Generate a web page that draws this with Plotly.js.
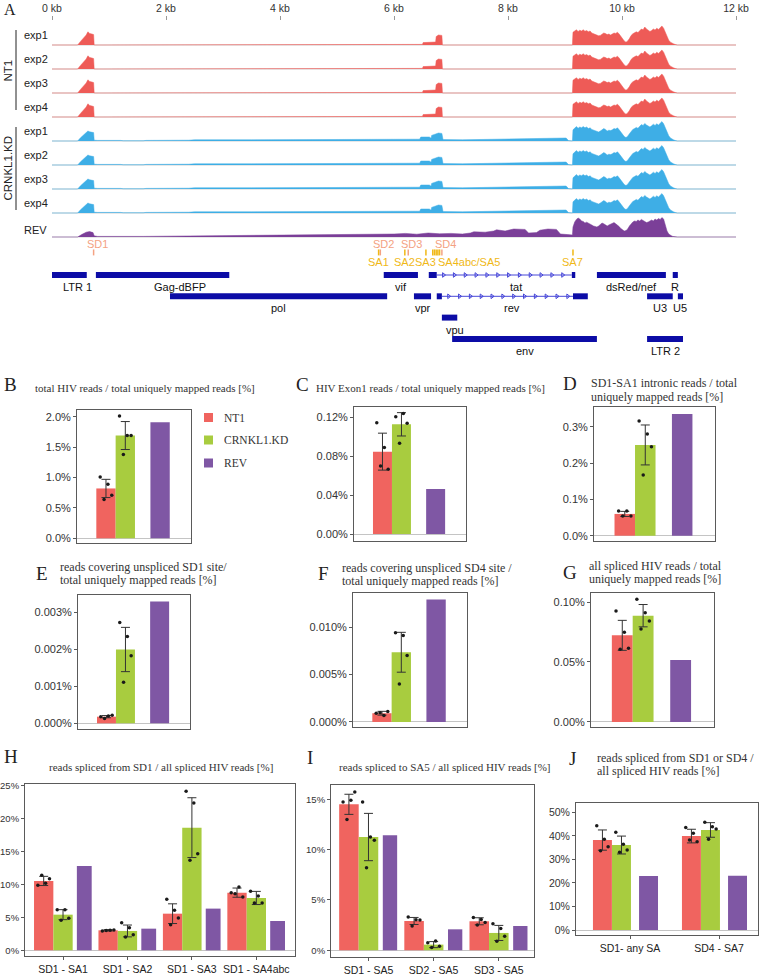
<!DOCTYPE html>
<html>
<head>
<meta charset="utf-8">
<script src="https://cdn.plot.ly/plotly-3.0.1.min.js"></script>
<style>
  html, body { margin: 0; padding: 0; background: #fff; }
  #fig { width: 760px; height: 975px; }
</style>
</head>
<body>
<div id="fig"></div>
<script>
/* HIV coverage tracks (A) + spliced read ratios (B–J) */

// ---------- A: coverage profiles (kb, relative depth) ----------
const trackLabel = ['exp1', 'exp2', 'exp3', 'exp4', 'exp1', 'exp2', 'exp3', 'exp4', 'REV'];
const trackCond  = ['NT1', 'NT1', 'NT1', 'NT1', 'KD', 'KD', 'KD', 'KD', 'REV'];

const headKb_NT1  = [0, 0.45, 0.5, 0.55, 0.6, 0.63, 0.66, 0.7, 0.73, 0.74, 5.7, 5.71, 5.78, 5.79, 6.04, 6.05, 6.5, 6.51, 6.6, 6.7, 6.73, 6.74, 6.78, 6.84, 6.85, 9.12];
const headVal_NT1 = [0, 0, 0.18, 0.34, 0.5, 0.66, 0.58, 0.55, 0.52, 0, 0, 0.03, 0.03, 0, 0, 0.03, 0.03, 0.12, 0.13, 0.14, 0.15, 0.42, 0.5, 0.48, 0, 0];

const headKb_KD  = [0, 0.45, 0.5, 0.55, 0.6, 0.63, 0.66, 0.7, 0.73, 0.74,
  0.8, 1.2, 1.25, 1.6, 1.65, 2.4, 2.5, 3.5, 4.0, 4.6,
  5.0, 5.5, 6.0, 6.45, 6.47, 6.55, 6.62, 6.65, 6.66, 6.72,
  6.78, 6.84, 6.86, 7.2, 7.6, 8.0, 8.4, 8.7, 8.9, 9.02, 9.06, 9.12];
const headVal_KD = [0, 0, 0.16, 0.3, 0.4, 0.5, 0.46, 0.44, 0.42, 0.04,
  0.03, 0.03, 0.01, 0.01, 0.03, 0.04, 0.06, 0.06, 0.07, 0.06,
  0.08, 0.08, 0.08, 0.09, 0.2, 0.22, 0.2, 0.14, 0.28, 0.34,
  0.4, 0.38, 0.07, 0.06, 0.08, 0.07, 0.09, 0.1, 0.13, 0.15, 0.02, 0];

const headKb_REV  = [0, 0.45, 0.52, 0.6, 0.66, 0.72, 0.74, 0.8, 1.6, 2.0,
  2.4, 2.8, 3.2, 3.6, 4.0, 4.3, 4.6, 5.0, 5.3, 5.6,
  6.0, 6.2, 6.4, 6.6, 6.8, 7.0, 7.2, 7.34, 7.4, 7.6,
  7.75, 7.8, 7.95, 8.1, 8.3, 8.36, 8.5, 8.56, 8.7, 8.85,
  8.92, 9.05, 9.12];
const headVal_REV = [0, 0, 0.12, 0.24, 0.27, 0.22, 0.06, 0.03, 0.03, 0.04,
  0.05, 0.06, 0.05, 0.07, 0.08, 0.1, 0.09, 0.12, 0.14, 0.12,
  0.15, 0.18, 0.14, 0.2, 0.16, 0.18, 0.15, 0.2, 0.26, 0.24,
  0.3, 0.36, 0.3, 0.4, 0.38, 0.2, 0.22, 0.34, 0.4, 0.38,
  0.15, 0.12, 0.08];

const tailKb = [9.13, 9.14, 9.17, 9.2, 9.23, 9.26, 9.29, 9.32, 9.35, 9.38,
  9.41, 9.44, 9.47, 9.5, 9.53, 9.56, 9.59, 9.62, 9.65, 9.68,
  9.71, 9.74, 9.77, 9.8, 9.83, 9.86, 9.89, 9.92, 9.95, 9.98,
  10.01, 10.04, 10.07, 10.1, 10.13, 10.16, 10.19, 10.22, 10.25, 10.28,
  10.31, 10.34, 10.37, 10.4, 10.43, 10.46, 10.49, 10.52, 10.55, 10.58,
  10.61, 10.64, 10.67, 10.7, 10.73, 10.76, 10.79, 10.82, 10.85, 10.88,
  10.91, 10.94, 10.97, 12];
const tailVal_NT1 = [0, 0.64, 0.7, 0.76, 0.68, 0.74, 0.7, 0.76, 0.69, 0.72,
  0.66, 0.7, 0.6, 0.56, 0.52, 0.5, 0.46, 0.48, 0.54, 0.6,
  0.57, 0.52, 0.55, 0.5, 0.55, 0.6, 0.58, 0.64, 0.55, 0.42,
  0.3, 0.2, 0.14, 0.2, 0.32, 0.48, 0.56, 0.6, 0.66, 0.62,
  0.7, 0.8, 0.76, 0.9, 0.8, 0.72, 0.68, 0.72, 0.8, 0.75,
  0.84, 0.78, 0.86, 0.95, 0.84, 0.62, 0.4, 0.24, 0.14, 0.08,
  0.05, 0.02, 0, 0];
const tailVal_KD = [0, 0.56, 0.66, 0.72, 0.64, 0.7, 0.66, 0.72, 0.66, 0.7,
  0.62, 0.66, 0.58, 0.54, 0.5, 0.48, 0.45, 0.5, 0.56, 0.62,
  0.58, 0.5, 0.54, 0.52, 0.56, 0.62, 0.6, 0.66, 0.56, 0.44,
  0.32, 0.22, 0.17, 0.24, 0.36, 0.5, 0.58, 0.62, 0.68, 0.64,
  0.72, 0.82, 0.78, 0.88, 0.8, 0.74, 0.7, 0.76, 0.84, 0.78,
  0.86, 0.8, 0.88, 0.97, 0.86, 0.64, 0.42, 0.26, 0.15, 0.09,
  0.05, 0.02, 0, 0];
const tailVal_REV = [0.1, 0.5, 0.75, 0.88, 0.95, 0.9, 0.8, 0.78, 0.7, 0.74,
  0.68, 0.62, 0.6, 0.55, 0.52, 0.5, 0.55, 0.62, 0.7, 0.66,
  0.58, 0.55, 0.6, 0.65, 0.7, 0.72, 0.66, 0.6, 0.52, 0.42,
  0.35, 0.3, 0.32, 0.4, 0.55, 0.68, 0.75, 0.8, 0.78, 0.85,
  0.8, 0.88, 0.82, 0.78, 0.72, 0.75, 0.82, 0.85, 0.8, 0.9,
  0.85, 0.92, 0.88, 0.97, 0.9, 0.6, 0.3, 0.15, 0.08, 0.04,
  0.02, 0.01, 0, 0];

// splice sites (kb)
const sdName = ['SD1', 'SD2', 'SD3', 'SD4'];
const sdKb   = [0.73, 5.76, 6.25, 6.84];
const saName = ['SA1', 'SA2', 'SA3', 'SA4abc/SA5', 'SA7'];
const saKb   = [5.73, 6.19, 6.56, 6.68, 9.14];
const saClusterKb = [6.71, 6.74, 6.77, 6.8];

// genome features (kb)
const geneName  = ['LTR 1', 'Gag-dBFP', 'vif', 'tat', 'dsRed/nef', 'R', 'pol', 'vpr', 'rev', 'U3', 'U5', 'vpu', 'env', 'LTR 2'];
const geneRow   = [1, 1, 1, 1, 1, 1, 2, 2, 2, 2, 2, 3, 4, 4];
const geneExons = [[[0, 0.61]], [[0.77, 3.11]], [[5.82, 6.42]], [[6.61, 6.75], [9.12, 9.18]], [[9.56, 10.77]], [[10.89, 10.98]],
  [[2.07, 5.88]], [[6.35, 6.65]], [[6.75, 6.84], [9.14, 9.4]], [[10.44, 10.89]], [[10.98, 11.07]],
  [[6.84, 7.11]], [[7.02, 9.56]], [[10.44, 11.07]]];

// ---------- B–J: bar data (% values) ----------
const cond = ['NT1', 'CRNKL1.KD', 'REV'];
const single = [''];

const B_NT1 = [0.82], B_KD = [1.69], B_REV = [1.91];
const B_sdNT1 = [0.15], B_sdKD = [0.23];
const B_ptsNT1 = [[1.01, 0.89, 0.71, 0.64]], B_ptsKD = [[2.01, 1.69, 1.69, 1.38]];

const C_NT1 = [0.0847], C_KD = [0.1128], C_REV = [0.0463];
const C_sdNT1 = [0.019], C_sdKD = [0.012];
const C_ptsNT1 = [[0.1145, 0.089, 0.0665, 0.070]], C_ptsKD = [[0.1207, 0.124, 0.1139, 0.0933]];

const D_NT1 = [0.06], D_KD = [0.25], D_REV = [0.335];
const D_sdNT1 = [0.007], D_sdKD = [0.055];
const D_ptsNT1 = [[0.068, 0.068, 0.054, 0.054]], D_ptsKD = [[0.316, 0.28, 0.245, 0.167]];

const E_NT1 = [0.00018], E_KD = [0.002], E_REV = [0.0033];
const E_sdNT1 = [0.00003], E_sdKD = [0.0006];
const E_ptsNT1 = [[0.00018, 0.0002, 0.00022, 0.00013]], E_ptsKD = [[0.00273, 0.00235, 0.00183, 0.00111]];

const F_NT1 = [0.00092], F_KD = [0.00734], F_REV = [0.0129];
const F_sdNT1 = [0.0002], F_sdKD = [0.0021];
const F_ptsNT1 = [[0.00092, 0.00067, 0.00109, 0.00098]], F_ptsKD = [[0.0094, 0.0091, 0.007, 0.004]];

const G_NT1 = [0.0722], G_KD = [0.0886], G_REV = [0.0517];
const G_sdNT1 = [0.0125], G_sdKD = [0.0093];
const G_ptsNT1 = [[0.0925, 0.0748, 0.0614, 0.0606]], G_ptsKD = [[0.1023, 0.0911, 0.0842, 0.0775]];

const H_cats = ['SD1 - SA1', 'SD1 - SA2', 'SD1 - SA3', 'SD1 - SA4abc'];
const H_NT1 = [10.55, 3.04, 5.57, 8.77], H_KD = [5.42, 2.94, 18.66, 7.96], H_REV = [12.83, 3.29, 6.34, 4.46];
const H_sdNT1 = [0.7, 0.1, 1.5, 0.7], H_sdKD = [0.76, 0.9, 4.55, 1.0];
const H_ptsNT1 = [[9.9, 10.2, 10.9, 11.4], [2.95, 3.05, 3.1, 3.0], [7.76, 6.09, 4.92, 3.9], [8.77, 9.63, 8.1, 8.6]];
const H_ptsKD  = [[6.18, 6.18, 4.87, 4.56], [4.2, 3.44, 2.37, 2.02], [24.2, 22.4, 14.7, 13.7], [8.98, 8.26, 7.2, 7.2]];

const I_cats = ['SD1 - SA5', 'SD2 - SA5', 'SD3 - SA5'];
const I_NT1 = [14.5, 2.91, 2.88], I_KD = [11.25, 0.56, 1.72], I_REV = [11.42, 2.08, 2.41];
const I_sdNT1 = [1.0, 0.35, 0.35], I_sdKD = [2.35, 0.3, 0.75];
const I_ptsNT1 = [[14.73, 14.9, 15.72, 13.0], [3.3, 3.04, 3.0, 2.41], [3.25, 3.05, 2.75, 2.5]];
const I_ptsKD  = [[14.73, 11.25, 10.92, 8.2], [0.75, 0.92, 0.4, 0.27], [2.64, 2.15, 1.39, 0.89]];

const J_cats = ['SD1- any SA', 'SD4 - SA7'];
const J_NT1 = [38.2, 39.9], J_KD = [36.1, 42.5], J_REV = [22.9, 23.1];
const J_sdNT1 = [4.3, 2.9], J_sdKD = [3.8, 3.1];
const J_ptsNT1 = [[44.3, 38.5, 35.4, 33.7], [43.5, 41.1, 37.5, 38.2]];
const J_ptsKD  = [[41.5, 36.4, 34.0, 33.0], [45.8, 43.9, 42.9, 38.5]];

// ---------- helpers / style ----------
const W = 760, H = 975;
const px = x => x / W, py = y => 1 - y / H;
const hdom = (a, b) => [a / W, b / W];
const vdom = (top, bot) => [1 - bot / H, 1 - top / H];
const SERIF = 'Liberation Serif, Times New Roman, serif';
const SANS = 'Liberation Sans, Arial, sans-serif';
const covColor = { NT1: '#ee5b57', KD: '#3eaee6', REV: '#7b3f98' };
const barColor = ['#f0645f', '#a8cc3f', '#7f57a4'];
const SD_COL = '#f4a283', SA_COL = '#f0b816', GENE_COL = '#0c0ca6';
const JIT = [-0.3, 0.1, 0.3, -0.1];

const yRef = n => n === 1 ? 'y' : 'y' + n;
const yKey = n => n === 1 ? 'yaxis' : 'yaxis' + n;

const traces = [], shapes = [], annotations = [];
const layout = {
  width: W, height: H, margin: { l: 0, r: 0, t: 0, b: 0 },
  showlegend: false, barmode: 'overlay',
  paper_bgcolor: '#fff', plot_bgcolor: 'rgba(0,0,0,0)',
  font: { family: SANS, color: '#333' },
  xaxis: {
    domain: hdom(52, 736), range: [0, 12], anchor: 'free', position: py(20), side: 'top',
    showgrid: false, zeroline: false, showline: false,
    ticks: 'outside', ticklen: 4, tickcolor: '#999',
    tickvals: [0, 2, 4, 6, 8, 10, 12], ticktext: ['0 kb', '2 kb', '4 kb', '6 kb', '8 kb', '10 kb', '12 kb'],
    tickfont: { family: SANS, size: 10.5, color: '#333' }, fixedrange: true
  }
};

function text(t, x, y, opt) {
  annotations.push(Object.assign({ text: t, x: x, y: y, xref: 'paper', yref: 'paper', showarrow: false,
    xanchor: 'left', yanchor: 'middle' }, opt));
}

// ---------- A: tracks ----------
const profiles = {
  NT1: { kb: headKb_NT1.concat(tailKb), v: headVal_NT1.concat(tailVal_NT1) },
  KD:  { kb: headKb_KD.concat(tailKb),  v: headVal_KD.concat(tailVal_KD) },
  REV: { kb: headKb_REV.concat(tailKb), v: headVal_REV.concat(tailVal_REV) }
};
const trackBase = [45, 69, 93, 117, 141, 165, 189, 213, 237];

trackCond.forEach((c, i) => {
  const n = i + 1, base = trackBase[i];
  layout[yKey(n)] = { domain: vdom(base - 21, base + 1), range: [-0.05, 1.05], visible: false, anchor: 'x', fixedrange: true };
  traces.push({ type: 'scatter', mode: 'lines', x: profiles[c].kb, y: profiles[c].v, xaxis: 'x', yaxis: yRef(n),
    fill: 'tozeroy', fillcolor: covColor[c], line: { color: covColor[c], width: 0.5 }, hoverinfo: 'skip' });
  shapes.push({ type: 'line', xref: 'x', yref: yRef(n), x0: 0, x1: 12, y0: 0, y1: 0, layer: 'below',
    line: { color: '#cfcfcf', width: 1 } });
  text(trackLabel[i], px(22), py(base - (i === 8 ? 7 : 10)), { font: { family: SANS, size: 11, color: '#222' } });
});

shapes.push({ type: 'line', xref: 'paper', yref: 'paper', x0: px(16), x1: px(16), y0: py(30), y1: py(110), line: { color: '#222', width: 1 } });
shapes.push({ type: 'line', xref: 'paper', yref: 'paper', x0: px(16), x1: px(16), y0: py(127), y1: py(210), line: { color: '#222', width: 1 } });
text('NT1', px(7.5), py(71), { xanchor: 'center', textangle: -90, font: { family: SANS, size: 11.5, color: '#222' } });
text('CRNKL1.KD', px(7.5), py(168), { xanchor: 'center', textangle: -90, font: { family: SANS, size: 11.5, color: '#222' } });
text('A', px(2), py(10), { font: { family: SERIF, size: 16, color: '#222' } });

// ---------- A: splice sites + genes ----------
const GY = 10;   // gene axis, row units
layout[yKey(GY)] = { domain: vdom(238, 352), range: [4.615, -0.737], visible: false, anchor: 'x', fixedrange: true };
const gy = yRef(GY);
const TICK_Y = [-0.2, 0.08];

sdKb.forEach((k, i) => {
  shapes.push({ type: 'line', xref: 'x', yref: gy, x0: k, x1: k, y0: TICK_Y[0], y1: TICK_Y[1], line: { color: SD_COL, width: 1.5 } });
  annotations.push({ text: sdName[i], x: k + 0.06, y: -0.45, xref: 'x', yref: gy, showarrow: false,
    font: { family: SANS, size: 11, color: SD_COL } });
});
saKb.concat(saClusterKb).forEach(k => {
  shapes.push({ type: 'line', xref: 'x', yref: gy, x0: k, x1: k, y0: TICK_Y[0], y1: TICK_Y[1], line: { color: SA_COL, width: 1.5 } });
});
saKb.forEach((k, i) => {
  const cluster = saName[i].indexOf('/') > 0;
  annotations.push({ text: saName[i], x: cluster ? k + 0.06 : k, y: 0.4, xref: 'x', yref: gy, showarrow: false,
    xanchor: cluster ? 'left' : 'center', font: { family: SANS, size: 11, color: SA_COL } });
});

const LABEL_NUDGE = { 'LTR 1': 0.14, 'Gag-dBFP': 0.3, 'tat': 0.24, 'vpu': 0.1 };
const chevX = [], chevY = [], arrX = [], arrY = [];
geneName.forEach((g, i) => {
  const r = geneRow[i], ex = geneExons[i];
  ex.forEach(e => {
    shapes.push({ type: 'rect', xref: 'x', yref: gy, x0: e[0], x1: e[1], y0: r - 0.14, y1: r + 0.14,
      fillcolor: GENE_COL, line: { width: 0 } });
    for (let k = e[0] + 0.09; k < e[1] - 0.04; k += 0.18) { chevX.push(k); chevY.push(r); }
  });
  if (ex.length > 1) {
    const a = ex[0][1], b = ex[1][0];
    shapes.push({ type: 'line', xref: 'x', yref: gy, x0: a, x1: b, y0: r, y1: r, line: { color: '#4646d8', width: 1 } });
    for (let k = a + 0.12; k < b - 0.05; k += 0.19) { arrX.push(k); arrY.push(r); }
  }
  const s = ex[0][0], e = ex[ex.length - 1][1];
  annotations.push({ text: g, x: (s + e) / 2 + (LABEL_NUDGE[g] || 0), y: r + 0.57, xref: 'x', yref: gy,
    showarrow: false, font: { family: SANS, size: 11, color: '#111' } });
});
// strand chevrons as small open markers
traces.push({ type: 'scatter', mode: 'markers', x: chevX, y: chevY, xaxis: 'x', yaxis: gy,
  marker: { symbol: 'triangle-right-open', size: 4, color: '#fff', line: { color: '#fff', width: 1 } },
  hoverinfo: 'skip', cliponaxis: false });
traces.push({ type: 'scatter', mode: 'markers', x: arrX, y: arrY, xaxis: 'x', yaxis: gy,
  marker: { symbol: 'triangle-right-open', size: 4, color: '#4646d8', line: { color: '#4646d8', width: 1 } },
  hoverinfo: 'skip', cliponaxis: false });

// ---------- B–J: bar panels ----------
const singleGeom = { xr: [-1.5, 4.4], off: [0, 1, 2.8], w: [1, 1, 1], tf: 11 };
const geoms = [
  Object.assign({ x0: 77, x1: 191, y0: 410, y1: 543, yr: [-0.077, 2.11], dtick: 0.5, fmt: '.1f' }, singleGeom),
  Object.assign({ x0: 354, x1: 466, y0: 407, y1: 541, yr: [-0.0072, 0.1306], dtick: 0.04, fmt: '.2f' }, singleGeom),
  Object.assign({ x0: 594, x1: 715, y0: 407, y1: 541, yr: [-0.0146, 0.3545], dtick: 0.1, fmt: '.1f' }, singleGeom),
  Object.assign({ x0: 78, x1: 190, y0: 595, y1: 729, yr: [-0.000154, 0.003477], dtick: 0.001, fmt: '.3f' }, singleGeom),
  Object.assign({ x0: 353, x1: 467, y0: 593, y1: 727, yr: [-0.00053, 0.01358], dtick: 0.005, fmt: '.3f' }, singleGeom),
  Object.assign({ x0: 591, x1: 714, y0: 593, y1: 727, yr: [-0.0042, 0.1075], dtick: 0.05, fmt: '.2f' }, singleGeom),
  { x0: 25, x1: 295, y0: 784, y1: 956, yr: [-0.87, 25.3], dtick: 5, fmt: '.0f', xr: [-0.59, 3.6], off: [-0.3, 0, 0.33], w: [0.3, 0.3, 0.23], tf: 9.5 },
  { x0: 331, x1: 534, y0: 785, y1: 957, yr: [-0.67, 16.42], dtick: 5, fmt: '.0f', xr: [-0.575, 2.54], off: [-0.3, 0, 0.33], w: [0.3, 0.3, 0.22], tf: 9.5 },
  { x0: 576, x1: 758, y0: 803, y1: 935, yr: [-2.12, 53.95], dtick: 10, fmt: '.0f', xr: [-0.607, 1.438], off: [-0.31, -0.096, 0.208], w: [0.213, 0.213, 0.213], tf: 10.5 }
];
const panelData = [
  [single, B_NT1, B_KD, B_REV, B_sdNT1, B_sdKD, B_ptsNT1, B_ptsKD],
  [single, C_NT1, C_KD, C_REV, C_sdNT1, C_sdKD, C_ptsNT1, C_ptsKD],
  [single, D_NT1, D_KD, D_REV, D_sdNT1, D_sdKD, D_ptsNT1, D_ptsKD],
  [single, E_NT1, E_KD, E_REV, E_sdNT1, E_sdKD, E_ptsNT1, E_ptsKD],
  [single, F_NT1, F_KD, F_REV, F_sdNT1, F_sdKD, F_ptsNT1, F_ptsKD],
  [single, G_NT1, G_KD, G_REV, G_sdNT1, G_sdKD, G_ptsNT1, G_ptsKD],
  [H_cats, H_NT1, H_KD, H_REV, H_sdNT1, H_sdKD, H_ptsNT1, H_ptsKD],
  [I_cats, I_NT1, I_KD, I_REV, I_sdNT1, I_sdKD, I_ptsNT1, I_ptsKD],
  [J_cats, J_NT1, J_KD, J_REV, J_sdNT1, J_sdKD, J_ptsNT1, J_ptsKD]
];

panelData.forEach((d, p) => {
  const g = geoms[p], [cats, mN, mK, mR, sN, sK, ptN, ptK] = d;
  const xn = p + 2, yn = p + 11, xa = 'x' + xn, ya = yRef(yn);
  const hasCats = cats[0] !== '';
  layout['xaxis' + xn] = {
    domain: hdom(g.x0, g.x1), range: g.xr, anchor: ya,
    showline: true, mirror: true, linecolor: '#5a5a5a', linewidth: 1, showgrid: false, zeroline: false,
    ticks: hasCats ? 'outside' : '', ticklen: 3, tickcolor: '#5a5a5a',
    tickvals: cats.map((_, i) => i), ticktext: cats, showticklabels: hasCats,
    tickfont: { family: SANS, size: 10.5, color: '#222' }, fixedrange: true
  };
  layout[yKey(yn)] = {
    domain: vdom(g.y0, g.y1), range: g.yr, anchor: xa,
    showline: true, mirror: true, linecolor: '#5a5a5a', linewidth: 1, showgrid: false,
    zeroline: true, zerolinecolor: '#c4c4c4', zerolinewidth: 1,
    ticks: 'outside', ticklen: 3, tickcolor: '#5a5a5a', tick0: 0, dtick: g.dtick,
    tickformat: g.fmt, ticksuffix: '%', tickfont: { family: SANS, size: g.tf, color: '#333' }, fixedrange: true
  };
  const means = [mN, mK, mR], sds = [sN, sK], pts = [ptN, ptK];
  means.forEach((m, c) => {
    const t = { type: 'bar', x: cats.map((_, i) => i + g.off[c]), y: m, width: g.w[c], xaxis: xa, yaxis: ya,
      marker: { color: barColor[c], line: { width: 0 } }, hoverinfo: 'skip' };
    if (c < 2) t.error_y = { type: 'data', array: sds[c], color: '#333', thickness: 1, width: 4.5 };
    traces.push(t);
  });
  pts.forEach((set, c) => {
    const xs = [], ys = [];
    set.forEach((vals, i) => vals.forEach((v, j) => { xs.push(i + g.off[c] + JIT[j] * g.w[c]); ys.push(v); }));
    traces.push({ type: 'scatter', mode: 'markers', x: xs, y: ys, xaxis: xa, yaxis: ya,
      marker: { size: 3.5, color: '#1a1a1a' }, hoverinfo: 'skip', cliponaxis: false });
  });
});

// legend in panel B
[417.5, 440, 463].forEach((y, c) => {
  shapes.push({ type: 'rect', xref: 'paper', yref: 'paper', x0: px(204), x1: px(213), y0: py(y + 4.5), y1: py(y - 4.5),
    fillcolor: barColor[c], line: { width: 0 } });
  text(cond[c], px(222), py(y), { font: { family: SERIF, size: 11.5, color: '#333' } });
});

// panel letters + titles
[['B', 2, 385], ['C', 294, 385], ['D', 561, 383], ['E', 34, 573], ['F', 316, 573], ['G', 561, 572],
 ['H', 2, 756], ['I', 305, 757], ['J', 567, 758]].forEach(l =>
  text(l[0], px(l[1]), py(l[2]), { font: { family: SERIF, size: 19, color: '#222' } }));

[['total HIV reads / total uniquely mapped reads [%]', 33, 388, 11],
 ['HIV Exon1 reads / total uniquely mapped reads [%]', 314, 388, 11],
 ['SD1-SA1 intronic reads / total', 589, 383, 12], ['uniquely mapped reads [%]', 589, 397, 12],
 ['reads covering unspliced SD1 site/', 58, 567, 12], ['total uniquely mapped reads [%]', 58, 580, 12],
 ['reads covering unspliced SD4 site /', 340, 568, 12], ['total uniquely mapped reads [%]', 340, 581, 12],
 ['all spliced HIV reads / total', 587, 566, 12], ['uniquely mapped reads [%]', 587, 579, 12],
 ['reads spliced from SD1 / all spliced HIV reads [%]', 47, 767, 11],
 ['reads spliced to SA5 / all spliced HIV reads [%]', 337, 767, 11],
 ['reads spliced from SD1 or SD4 /', 595, 758, 12], ['all spliced HIV reads [%]', 595, 771, 12]
].forEach(t => text(t[0], px(t[1]), py(t[2]), { font: { family: SERIF, size: t[3], color: '#333' } }));

layout.shapes = shapes;
layout.annotations = annotations;

Plotly.newPlot('fig', traces, layout, { staticPlot: true, displayModeBar: false });
</script>
</body>
</html>
